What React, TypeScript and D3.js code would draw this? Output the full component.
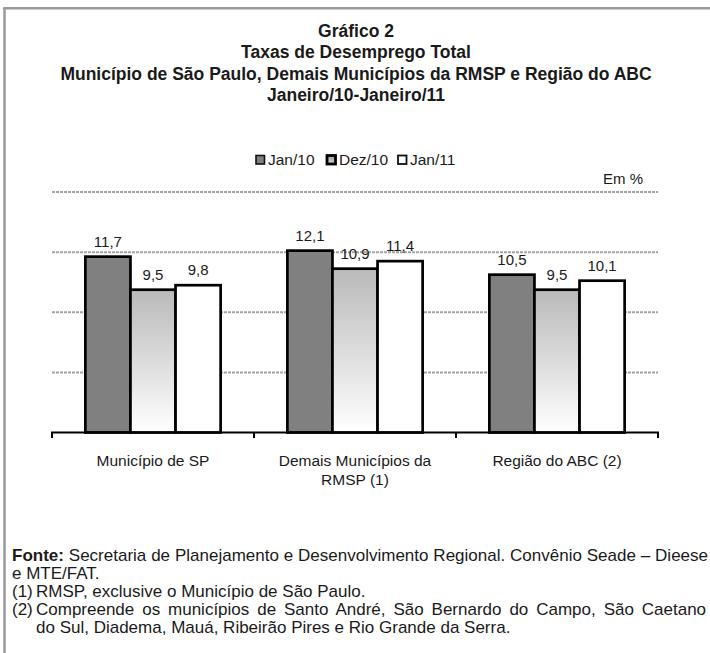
import React from "react";
import * as d3 from "d3";

// chart values (Taxas de desemprego total, %)
const categories = ["Município de SP", "Demais Municípios da RMSP (1)", "Região do ABC (2)"];
const categoryLines = [["Município de SP"], ["Demais Municípios da", "RMSP (1)"], ["Região do ABC (2)"]];
const seriesNames = ["Jan/10", "Dez/10", "Jan/11"];
const jan10 = [11.7, 12.1, 10.5];
const dez10 = [9.5, 10.9, 9.5];
const jan11 = [9.8, 11.4, 10.1];
const gridTicks = [0, 4, 8, 12, 16];

const titleLines = [
  "Gráfico 2",
  "Taxas de Desemprego Total",
  "Município de São Paulo, Demais Municípios da RMSP e Região do ABC",
  "Janeiro/10-Janeiro/11",
];

const W = 710;
const H = 653;
const FONT = "'Liberation Sans', Arial, Helvetica, sans-serif";
const NOTE_SIZE = 17;

const plot = { left: 52, right: 658, top: 192, bottom: 432.5 };

function fmt(v: number) {
  return v.toFixed(1).replace(".", ",");
}

// text width measuring for the justified note lines
const canvas = typeof document !== "undefined" ? document.createElement("canvas") : null;
function textWidth(str: string, bold = false) {
  const ctx = canvas?.getContext("2d");
  if (!ctx) return str.length * NOTE_SIZE * 0.5;
  ctx.font = `${bold ? "bold " : ""}${NOTE_SIZE}px ${FONT}`;
  return ctx.measureText(str).width;
}
function justifySpacing(natural: number, target: number, str: string) {
  const gaps = (str.match(/ /g) || []).length;
  return gaps ? Math.max(0, (target - natural) / gaps) : 0;
}

export default function App() {
  const series = [jan10, dez10, jan11];

  const x0 = d3.scaleBand<string>().domain(categories).range([plot.left, plot.right]).padding(0);
  const x1 = d3
    .scaleBand<string>()
    .domain(seriesNames)
    .range([0, x0.bandwidth()])
    .paddingInner(0)
    .paddingOuter(0.74);
  const y = d3.scaleLinear().domain([0, 16]).range([plot.bottom, plot.top]);

  const fills = ["#808080", "url(#dezGrad)", "#ffffff"];
  const boundaries = [...categories.map((c) => x0(c) as number), plot.right];

  const note1a = "Fonte:";
  const note1b = " Secretaria de Planejamento e Desenvolvimento Regional. Convênio Seade – Dieese";
  const ws1 = justifySpacing(textWidth(note1a, true) + textWidth(note1b), 708 - 12, note1b);
  const note4 = "Compreende os municípios de Santo André, São Bernardo do Campo, São Caetano";
  const indent = 36;
  const ws4 = justifySpacing(textWidth(note4), 707 - indent, note4);

  return (
    <div>
      <style>{`body{margin:0}`}</style>
      <svg width={W} height={H} style={{ display: "block", background: "#fff" }} fontFamily={FONT}>
        <defs>
          <linearGradient id="dezGrad" x1="0" y1="0" x2="0" y2="1">
            <stop offset="0%" stopColor="#b9b9b9" />
            <stop offset="100%" stopColor="#ffffff" />
          </linearGradient>
          <linearGradient id="legGrad" x1="0" y1="0" x2="0" y2="1">
            <stop offset="0%" stopColor="#9a9a9a" />
            <stop offset="100%" stopColor="#d8d8d8" />
          </linearGradient>
        </defs>

        {/* frame */}
        <line x1={4.5} x2={4.5} y1={8} y2={H} stroke="#9a9a9a" strokeWidth={2.5} />
        <line x1={3.3} x2={W} y1={8.3} y2={8.3} stroke="#9a9a9a" strokeWidth={2.5} />

        {/* title */}
        {titleLines.map((t, i) => (
          <text
            key={i}
            x={356}
            y={37 + i * 21.3}
            textAnchor="middle"
            fontWeight="bold"
            fontSize={17.5}
            fill="#1a1a1a"
          >
            {t}
          </text>
        ))}

        {/* legend */}
        {seriesNames.map((s, i) => {
          const lx = 256 + i * 71;
          return (
            <g key={s}>
              {i === 0 && (
                <rect x={lx} y={155.5} width={8.5} height={8.5} fill="#808080" stroke="#111" strokeWidth={1.6} />
              )}
              {i === 1 && (
                <rect x={lx} y={155.5} width={8.5} height={8.5} fill="url(#legGrad)" stroke="#000" strokeWidth={2.8} />
              )}
              {i === 2 && (
                <rect x={lx} y={155.5} width={8.5} height={8.5} fill="#fff" stroke="#111" strokeWidth={1.8} />
              )}
              <text x={lx + 12} y={165} fontSize={15.5} fill="#1a1a1a">
                {s}
              </text>
            </g>
          );
        })}

        <text x={643} y={184} textAnchor="end" fontSize={15} fill="#1a1a1a">
          Em %
        </text>

        {/* grid */}
        {gridTicks
          .filter((t) => t > 0)
          .map((t) => (
            <line
              key={t}
              x1={plot.left}
              x2={plot.right}
              y1={y(t)}
              y2={y(t)}
              stroke="#a3a3a3"
              strokeWidth={2}
              strokeDasharray="3,1"
            />
          ))}

        {/* bars */}
        {categories.map((c, ci) => (
          <g key={c} transform={`translate(${x0(c)},0)`}>
            {series.map((vals, si) => {
              const v = vals[ci];
              const bx = x1(seriesNames[si]) as number;
              return (
                <g key={si}>
                  <rect
                    x={bx}
                    y={y(v)}
                    width={x1.bandwidth()}
                    height={y(0) - y(v)}
                    fill={fills[si]}
                    stroke="#000"
                    strokeWidth={2.7}
                  />
                  <text
                    x={bx + x1.bandwidth() / 2}
                    y={y(v) - 10}
                    textAnchor="middle"
                    fontSize={15}
                    fill="#1a1a1a"
                  >
                    {fmt(v)}
                  </text>
                </g>
              );
            })}
          </g>
        ))}

        {/* axis */}
        <line x1={plot.left - 1} x2={plot.right + 1} y1={plot.bottom} y2={plot.bottom} stroke="#000" strokeWidth={2.2} />
        {boundaries.map((bx, i) => (
          <line key={i} x1={bx} x2={bx} y1={plot.bottom} y2={plot.bottom + 5.5} stroke="#000" strokeWidth={2} />
        ))}

        {/* category labels */}
        {categories.map((c, ci) => (
          <text
            key={c}
            x={(x0(c) as number) + x0.bandwidth() / 2}
            y={466}
            textAnchor="middle"
            fontSize={15.5}
            fill="#1a1a1a"
          >
            {categoryLines[ci].map((ln, li) => (
              <tspan key={li} x={(x0(c) as number) + x0.bandwidth() / 2} dy={li === 0 ? 0 : 19}>
                {ln}
              </tspan>
            ))}
          </text>
        ))}

        {/* notes */}
        <g fontSize={NOTE_SIZE} fill="#1a1a1a">
          <text x={12} y={561} style={{ wordSpacing: `${ws1}px` }}>
            <tspan fontWeight="bold">{note1a}</tspan>
            {note1b}
          </text>
          <text x={12} y={579}>
            e MTE/FAT.
          </text>
          <text x={12} y={597}>
            (1)
          </text>
          <text x={indent} y={597}>
            RMSP, exclusive o Município de São Paulo.
          </text>
          <text x={12} y={615}>
            (2)
          </text>
          <text x={indent} y={615} style={{ wordSpacing: `${ws4}px` }}>
            {note4}
          </text>
          <text x={indent} y={633}>
            do Sul, Diadema, Mauá, Ribeirão Pires e Rio Grande da Serra.
          </text>
        </g>
      </svg>
    </div>
  );
}
